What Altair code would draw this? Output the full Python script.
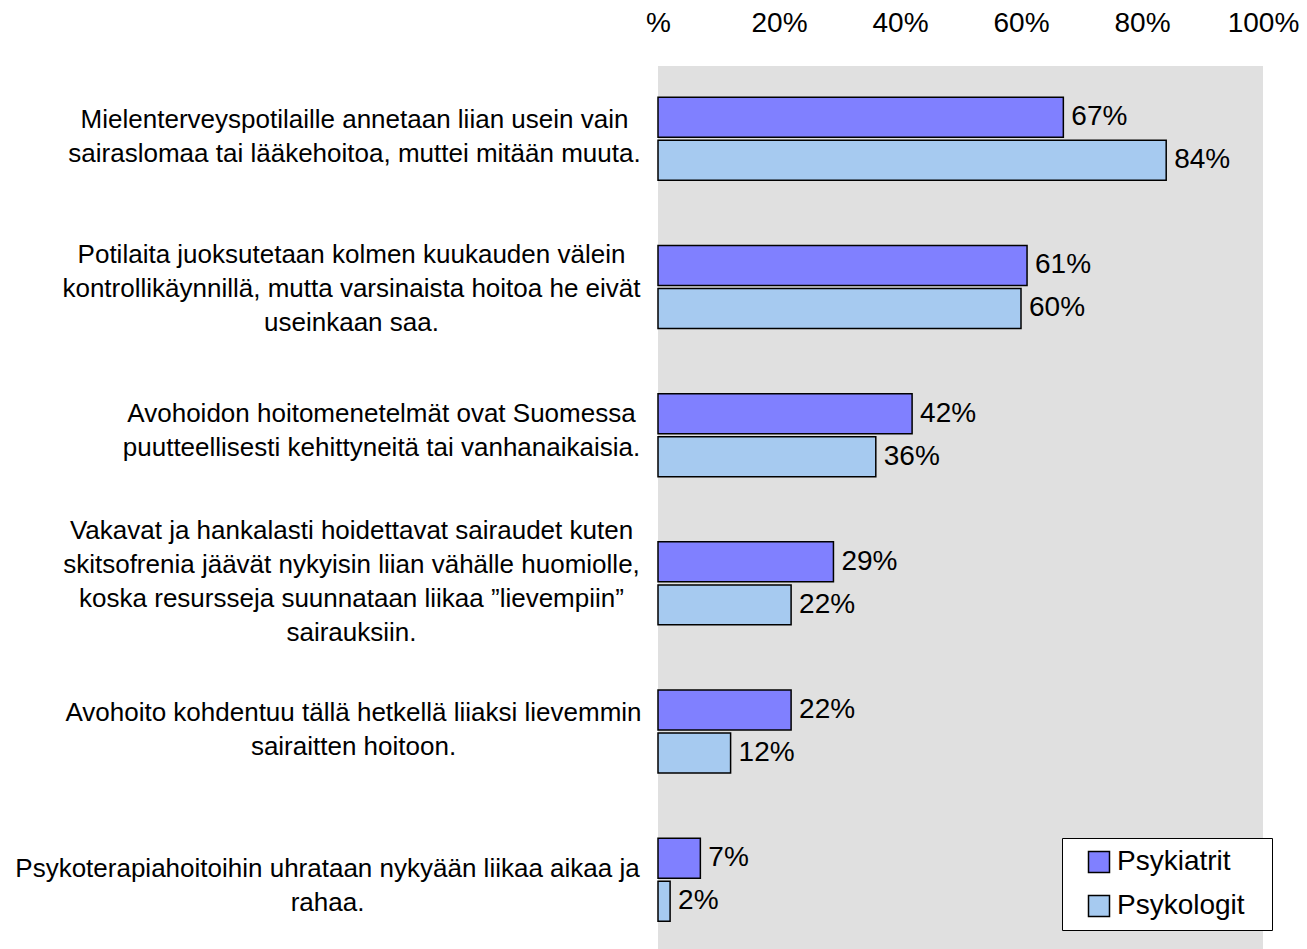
import altair as alt
import pandas as pd

categories = [
    "Mielenterveyspotilaille annetaan liian usein vain|sairaslomaa tai lääkehoitoa, muttei mitään muuta.",
    "Potilaita juoksutetaan kolmen kuukauden välein|kontrollikäynnillä, mutta varsinaista hoitoa he eivät|useinkaan saa.",
    "Avohoidon hoitomenetelmät ovat Suomessa|puutteellisesti kehittyneitä tai vanhanaikaisia.",
    "Vakavat ja hankalasti hoidettavat sairaudet kuten|skitsofrenia jäävät nykyisin liian vähälle huomiolle,|koska resursseja suunnataan liikaa ”lievempiin”|sairauksiin.",
    "Avohoito kohdentuu tällä hetkellä liiaksi lievemmin|sairaitten hoitoon.",
    "Psykoterapiahoitoihin uhrataan nykyään liikaa aikaa ja|rahaa.",
]
series = ["Psykiatrit", "Psykologit"]
psykiatrit = [67, 61, 42, 29, 22, 7]
psykologit = [84, 60, 36, 22, 12, 2]
colors = ["#8080ff", "#a6caf0"]
x_ticks = [0, 20, 40, 60, 80, 100]

# label layout (style only): horizontal padding and vertical offset per category label
label_padding = [304, 307, 277, 307, 305, 331]
label_offset = [-19, -32, -21, -52, -19, -11]

rows = []
for i, c in enumerate(categories):
    rows.append({"cat": c, "group": series[0], "value": psykiatrit[i]})
    rows.append({"cat": c, "group": series[1], "value": psykologit[i]})
df = pd.DataFrame(rows)

FONT = "Liberation Sans"


def cond(vals, default):
    return {
        "condition": [
            {"test": f"datum.value == '{c}'", "value": v}
            for c, v in zip(categories, vals)
        ],
        "value": default,
    }


y_enc = alt.Y(
    "cat:N",
    sort=categories,
    scale=alt.Scale(paddingInner=0.44, paddingOuter=0.199, align=0.53),
    axis=alt.Axis(
        title=None,
        labelExpr="split(datum.label, '|')",
        labelAlign="center",
        labelBaseline="middle",
        labelPadding=cond(label_padding, 306),
        labelOffset=cond(label_offset, 0),
        labelFontSize=26,
        labelLineHeight=34,
        labelFont=FONT,
        labelColor="black",
        labelLimit=0,
        ticks=False,
        domain=False,
    ),
)
x_enc = alt.X(
    "value:Q",
    scale=alt.Scale(domain=[0, 100]),
    axis=alt.Axis(
        orient="top",
        title=None,
        values=x_ticks,
        labelExpr="datum.value == 0 ? '%' : datum.value + '%'",
        labelFontSize=28,
        labelFont=FONT,
        labelColor="black",
        labelPadding=29,
        labelFlush=False,
        labelOverlap=False,
        grid=False,
        ticks=False,
        domain=False,
    ),
)
yoff = alt.YOffset("group:N", sort=series, scale=alt.Scale(paddingInner=0.07))

base = alt.Chart(df).encode(y=y_enc, yOffset=yoff)

bars = base.mark_bar(stroke="black", strokeWidth=1.5).encode(
    x=x_enc,
    color=alt.Color(
        "group:N",
        sort=series,
        scale=alt.Scale(domain=series, range=colors),
        legend=alt.Legend(
            title=" ",
            titleOrient="right",
            titlePadding=17,
            titleFontSize=10,
            orient="none",
            legendX=404,
            legendY=772,
            symbolType="square",
            symbolSize=441,
            symbolStrokeColor="black",
            symbolStrokeWidth=1.5,
            symbolOffset=13,
            labelFontSize=28,
            labelFont=FONT,
            labelColor="black",
            labelOffset=4,
            fillColor="white",
            strokeColor="black",
            padding=10,
            rowPadding=16,
        ),
    ),
)

labels = (
    base.mark_text(align="left", baseline="middle", dx=8, fontSize=28, font=FONT, color="black")
    .encode(x=alt.X("value:Q"), text=alt.Text("lbl:N"))
    .transform_calculate(lbl="datum.value + '%'")
)

chart = (
    alt.layer(bars, labels)
    .properties(
        width=605,
        height=883,
        autosize=alt.AutoSizeParams(type="none"),
        padding={"left": 658, "top": 66, "right": 44, "bottom": 0},
        background="white",
    )
    .configure_view(fill="#e0e0e0", stroke=None)
)

chart.save("out.html", embed_options={"renderer": "svg", "actions": False})
